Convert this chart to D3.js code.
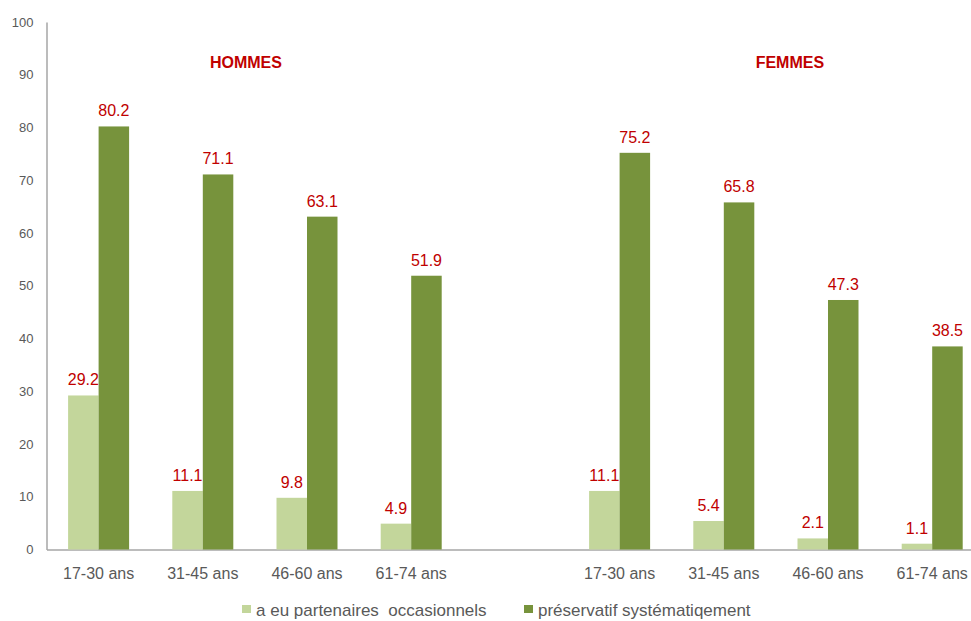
<!DOCTYPE html>
<html>
<head>
<meta charset="utf-8">
<script src="https://cdn.jsdelivr.net/npm/d3@7/dist/d3.min.js"></script>
<style>
  html, body { margin: 0; padding: 0; background: #fff; }
  svg { display: block; font-family: "Liberation Sans", Arial, sans-serif; }
</style>
</head>
<body>
<svg id="chart" width="971" height="621"></svg>
<script>
// Age groups for each sex; an empty slot separates men and women
const slots = ["H-17-30", "H-31-45", "H-46-60", "H-61-74", "gap", "F-17-30", "F-31-45", "F-46-60", "F-61-74"];
const slotLabels = ["17-30 ans", "31-45 ans", "46-60 ans", "61-74 ans", "", "17-30 ans", "31-45 ans", "46-60 ans", "61-74 ans"];
const barSlots = ["H-17-30", "H-31-45", "H-46-60", "H-61-74", "F-17-30", "F-31-45", "F-46-60", "F-61-74"];

// Series values (%)
const occasionnels = [29.2, 11.1, 9.8, 4.9, 11.1, 5.4, 2.1, 1.1];
const preservatif  = [80.2, 71.1, 63.1, 51.9, 75.2, 65.8, 47.3, 38.5];

const seriesNames = ["a eu partenaires  occasionnels", "préservatif systématiqement"];
const seriesColors = ["#c3d69b", "#77933c"];
const yTicks = [0, 10, 20, 30, 40, 50, 60, 70, 80, 90, 100];

const groupTitles = [
  { text: "HOMMES", between: ["H-31-45", "H-46-60"], shift: -9 },
  { text: "FEMMES", between: ["F-31-45", "F-46-60"], shift: 14 }
];

const svg = d3.select("#chart");
const plotLeft = 46.5, plotTop = 22, plotBottom = 549.5;

const x = d3.scaleBand().domain(slots).range([plotLeft, plotLeft + 9 * 104.2]).paddingInner(0).paddingOuter(0);
const inner = d3.scaleBand().domain([0, 1]).range([0, 61]).padding(0);
const y = d3.scaleLinear().domain([0, 100]).range([plotBottom, plotTop]);

const textGrey = "#595959";
const axisGrey = "#a6a6a6";
const red = "#c00000";

// Y axis
const yAxis = svg.append("g")
  .attr("transform", `translate(${plotLeft},0)`)
  .call(d3.axisLeft(y).tickValues(yTicks).tickSize(0).tickPadding(13));
yAxis.select(".domain").attr("stroke", axisGrey).attr("stroke-width", 1.5);
yAxis.selectAll("text").attr("fill", textGrey).style("font-size", "13px");

// X axis
const xAxis = svg.append("g")
  .attr("transform", `translate(0,${plotBottom})`)
  .call(d3.axisBottom(x).tickSize(0).tickPadding(18).tickFormat((d, i) => slotLabels[i]));
xAxis.select(".domain").attr("stroke", axisGrey).attr("stroke-width", 1.5);
xAxis.selectAll("text").attr("fill", textGrey).style("font-size", "16px");

// Bars and value labels
const series = [occasionnels, preservatif];
series.forEach((vals, s) => {
  const data = barSlots.map((k, i) => ({ k, v: vals[i] }));
  const gx = d => x(d.k) + (x.bandwidth() - inner.range()[1]) / 2 + inner(s);
  svg.append("g").selectAll("rect").data(data).join("rect")
    .attr("x", gx)
    .attr("y", d => y(d.v))
    .attr("width", inner.bandwidth())
    .attr("height", d => y(0) - y(d.v))
    .attr("fill", seriesColors[s]);
  svg.append("g").selectAll("text").data(data).join("text")
    .attr("x", d => gx(d) + inner.bandwidth() / 2)
    .attr("y", d => y(d.v) - 10)
    .attr("text-anchor", "middle")
    .attr("fill", red)
    .style("font-size", "16px")
    .text(d => d.v.toFixed(1));
});

// Section titles
groupTitles.forEach(t => {
  const cx = (x(t.between[0]) + x(t.between[1])) / 2 + x.bandwidth() / 2 + t.shift;
  svg.append("text")
    .attr("x", cx).attr("y", 68)
    .attr("text-anchor", "middle")
    .attr("fill", red)
    .style("font-size", "16px").style("font-weight", "bold")
    .text(t.text);
});

// Legend
const legendX = [242, 524];
seriesNames.forEach((name, i) => {
  const g = svg.append("g").attr("transform", `translate(${legendX[i]},0)`);
  g.append("rect").attr("x", 0).attr("y", 605).attr("width", 9).attr("height", 8).attr("fill", seriesColors[i]);
  g.append("text").attr("x", 14).attr("y", 616)
    .attr("fill", textGrey).style("font-size", "17px")
    .attr("xml:space", "preserve").style("white-space", "pre")
    .text(name);
});
</script>
</body>
</html>
